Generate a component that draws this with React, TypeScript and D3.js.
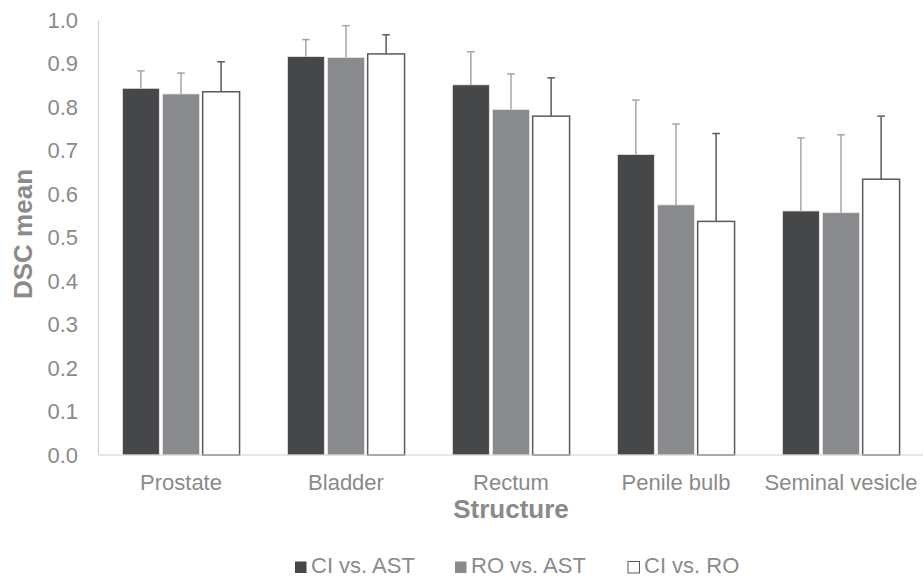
import React from "react";
import * as d3 from "d3";

const categories = ["Prostate", "Bladder", "Rectum", "Penile bulb", "Seminal vesicle"];
const seriesNames = ["CI vs. AST", "RO vs. AST", "CI vs. RO"];
const ciVsAst = [0.843, 0.916, 0.851, 0.691, 0.561];
const roVsAst = [0.830, 0.914, 0.794, 0.575, 0.557];
const ciVsRo = [0.835, 0.922, 0.779, 0.537, 0.634];
const ciVsAstSd = [0.040, 0.039, 0.076, 0.125, 0.168];
const roVsAstSd = [0.048, 0.073, 0.082, 0.186, 0.179];
const ciVsRoSd = [0.069, 0.044, 0.088, 0.202, 0.145];
const yTicks = [0, 0.1, 0.2, 0.3, 0.4, 0.5, 0.6, 0.7, 0.8, 0.9, 1.0];

const W = 923;
const H = 577;
const M = { left: 98.5, right: 923.5, top: 20, bottom: 455 };
const FONT = "'Liberation Sans', Arial, sans-serif";
const TEXT = "#8a8a8a";

const styles = [
  { fill: "#464749", stroke: "#e8e8e8", err: "#a6a6a6" },
  { fill: "#898a8d", stroke: "#e8e8e8", err: "#a6a6a6" },
  { fill: "#ffffff", stroke: "#5a5a5a", err: "#5a5a5a" },
];

export default function App() {
  const means = [ciVsAst, roVsAst, ciVsRo];
  const sds = [ciVsAstSd, roVsAstSd, ciVsRoSd];
  const x0 = d3.scaleBand<string>().domain(categories).range([M.left, M.right]).paddingInner(0.29).paddingOuter(0.145);
  const x1 = d3.scaleBand<number>().domain([0, 1, 2]).range([0, x0.bandwidth()]).paddingInner(0.08);
  const y = d3.scaleLinear().domain([0, 1]).range([M.bottom, M.top]);

  return (
    <svg width={W} height={H} style={{ position: "absolute", left: 0, top: 0, background: "#fff" }} fontFamily={FONT}>
      <line x1={M.left} x2={M.left} y1={M.top} y2={M.bottom} stroke="#d0d0d0" strokeWidth={1.2} />
      {yTicks.map((t) => (
        <text key={t} x={78} y={y(t)} dy="0.36em" textAnchor="end" fontSize={22} fill={TEXT}>
          {d3.format(".1f")(t)}
        </text>
      ))}
      {categories.map((c, i) => (
        <g key={c}>
          {means.map((m, s) => {
            const bx = (x0(c) as number) + (x1(s) as number);
            const bw = x1.bandwidth();
            const cx = bx + bw / 2;
            const top = y(m[i]);
            const errTop = y(m[i] + sds[s][i]);
            return (
              <g key={s}>
                <rect x={bx} y={top} width={bw} height={y(0) - top} fill={styles[s].fill} stroke={styles[s].stroke} strokeWidth={s === 2 ? 1.5 : 0.8} />
                <line x1={cx} x2={cx} y1={top} y2={errTop} stroke={styles[s].err} strokeWidth={1.5} />
                <line x1={cx - 3.8} x2={cx + 3.8} y1={errTop} y2={errTop} stroke={styles[s].err} strokeWidth={1.5} />
              </g>
            );
          })}
          <text x={(x0(c) as number) + x0.bandwidth() / 2} y={489.5} textAnchor="middle" fontSize={22} fill={TEXT}>
            {c}
          </text>
        </g>
      ))}
      <line x1={M.left} x2={M.right} y1={M.bottom} y2={M.bottom} stroke="#d0d0d0" strokeWidth={1.2} />
      <text x={511} y={518} textAnchor="middle" fontSize={26} fontWeight="bold" fill={TEXT}>
        Structure
      </text>
      <text transform={`translate(32,234) rotate(-90)`} textAnchor="middle" fontSize={26} fontWeight="bold" fill={TEXT}>
        DSC mean
      </text>
      {seriesNames.map((n, s) => {
        const lx = [295, 455, 628][s];
        return (
          <g key={n}>
            <rect x={lx} y={561.5} width={11.5} height={11.5} fill={styles[s].fill} stroke={s === 2 ? styles[s].stroke : "none"} strokeWidth={1} />
            <text x={lx + 16} y={573} fontSize={22} fill={TEXT}>
              {n}
            </text>
          </g>
        );
      })}
    </svg>
  );
}
